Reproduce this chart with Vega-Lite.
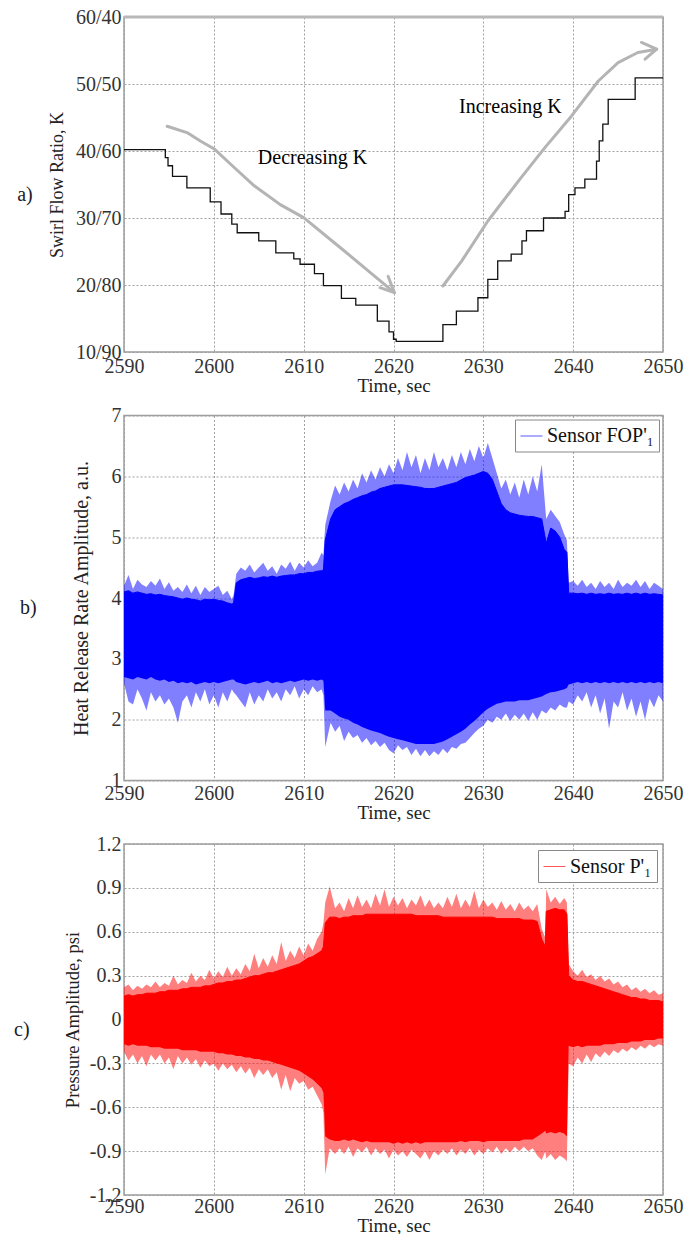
{
"$schema": "https://vega.github.io/schema/vega-lite/v6.json",
"padding": {"left": 13, "top": 6, "right": 4, "bottom": 0},
"background": "white",
"spacing": 63.5,
"bounds": "flush",
"resolve": {"scale": {"color": "independent"}, "legend": {"color": "independent"}},
"config": {
  "font": "Liberation Serif",
  "view": {"stroke": "#9c9c9c", "strokeWidth": 1.5},
  "axis": {"labelFont": "Liberation Serif", "labelFontSize": 20, "labelColor": "#333333", "titleFont": "Liberation Serif", "titleFontSize": 20, "titleFontWeight": "normal", "titleColor": "#222222", "ticks": false, "domain": false, "gridColor": "#a0a0a0", "gridDash": [2, 2], "gridWidth": 1, "labelOverlap": false, "labelFlush": false},
  "legend": {"labelFont": "Liberation Serif", "labelFontSize": 20, "labelColor": "#111111", "strokeColor": "#888888", "fillColor": "white", "padding": 5, "symbolType": "stroke", "symbolSize": 484, "symbolStrokeWidth": 1, "symbolOpacity": 0.65, "orient": "top-right", "offset": 4, "title": null},
  "title": {"font": "Liberation Serif", "fontSize": 20, "fontWeight": "normal", "color": "#1a1a2a", "orient": "left", "angle": 0, "align": "right", "baseline": "middle"}
},
"datasets": {
  "steps": [{"t":2590,"k":40.2},{"t":2594.6,"k":39.0},{"t":2594.9,"k":37.8},{"t":2595.4,"k":36.2},{"t":2597.0,"k":34.5},{"t":2599.6,"k":32.4},{"t":2600.8,"k":30.6},{"t":2602.0,"k":29.1},{"t":2602.6,"k":27.8},{"t":2605.0,"k":26.6},{"t":2606.9,"k":24.8},{"t":2608.9,"k":23.9},{"t":2609.6,"k":23.1},{"t":2611.2,"k":21.7},{"t":2612.2,"k":19.9},{"t":2614.2,"k":18.0},{"t":2615.8,"k":17.0},{"t":2618.2,"k":14.6},{"t":2619.5,"k":13.0},{"t":2620.0,"k":11.9},{"t":2620.3,"k":11.6},{"t":2625.5,"k":14.1},{"t":2627.0,"k":16.1},{"t":2629.4,"k":18.1},{"t":2630.5,"k":20.85},{"t":2631.6,"k":23.6},{"t":2633.1,"k":24.6},{"t":2634.3,"k":26.6},{"t":2634.8,"k":28.1},{"t":2636.7,"k":30.0},{"t":2639.1,"k":31.0},{"t":2639.5,"k":33.5},{"t":2640.2,"k":34.5},{"t":2641.3,"k":35.8},{"t":2642.6,"k":38.5},{"t":2642.9,"k":41.5},{"t":2643.3,"k":44.0},{"t":2643.9,"k":47.7},{"t":2646.9,"k":50.9},{"t":2650.0,"k":50.9}],
  "arrows": [
    {"seg":"d","o":1,"t":2594.8,"k":43.7},{"seg":"d","o":2,"t":2597.1,"k":42.7},{"seg":"d","o":3,"t":2598.5,"k":41.5},{"seg":"d","o":4,"t":2600.1,"k":40.25},{"seg":"d","o":5,"t":2602.3,"k":37.5},{"seg":"d","o":6,"t":2604.5,"k":34.8},{"seg":"d","o":7,"t":2607.4,"k":32.0},{"seg":"d","o":8,"t":2610.0,"k":30.05},{"seg":"d","o":9,"t":2614.6,"k":25.0},{"seg":"d","o":10,"t":2620.1,"k":18.85},
    {"seg":"dh","o":1,"t":2619.4,"k":21.3},{"seg":"dh","o":2,"t":2620.1,"k":18.85},{"seg":"dh","o":3,"t":2618.5,"k":19.6},
    {"seg":"i","o":1,"t":2625.5,"k":19.85},{"seg":"i","o":2,"t":2627.6,"k":23.6},{"seg":"i","o":3,"t":2630.5,"k":29.55},{"seg":"i","o":4,"t":2633.9,"k":35.5},{"seg":"i","o":5,"t":2636.85,"k":40.5},{"seg":"i","o":6,"t":2639.8,"k":45.2},{"seg":"i","o":7,"t":2642.8,"k":50.45},{"seg":"i","o":8,"t":2645.0,"k":53.2},{"seg":"i","o":9,"t":2647.2,"k":54.7},{"seg":"i","o":10,"t":2649.3,"k":55.2},
    {"seg":"ih","o":1,"t":2647.6,"k":56.2},{"seg":"ih","o":2,"t":2649.3,"k":55.2},{"seg":"ih","o":3,"t":2648.0,"k":53.7}
  ],
  "notes": [{"t":2604.9,"k":39.0,"label":"Decreasing K"},{"t":2627.3,"k":46.5,"label":"Increasing K"}],
  "hrr": [
    {"t":2590.0,"ho":4.20,"hi":4.10,"lo":2.70,"lw":2.60},{"t":2590.5,"ho":4.38,"hi":4.12,"lo":2.68,"lw":2.30},{"t":2591.0,"ho":4.15,"hi":4.08,"lo":2.66,"lw":2.25},{"t":2591.5,"ho":4.30,"hi":4.10,"lo":2.70,"lw":2.50},{"t":2592.0,"ho":4.22,"hi":4.08,"lo":2.68,"lw":2.35},{"t":2592.5,"ho":4.18,"hi":4.06,"lo":2.66,"lw":2.15},{"t":2593.0,"ho":4.28,"hi":4.07,"lo":2.70,"lw":2.45},{"t":2593.5,"ho":4.20,"hi":4.05,"lo":2.66,"lw":2.30},{"t":2594.0,"ho":4.32,"hi":4.06,"lo":2.64,"lw":2.40},{"t":2594.5,"ho":4.15,"hi":4.04,"lo":2.66,"lw":2.25},{"t":2595.0,"ho":4.26,"hi":4.03,"lo":2.62,"lw":2.35},{"t":2595.5,"ho":4.12,"hi":4.02,"lo":2.64,"lw":2.20},{"t":2596.0,"ho":4.18,"hi":4.00,"lo":2.60,"lw":1.95},{"t":2596.5,"ho":4.10,"hi":3.98,"lo":2.62,"lw":2.30},{"t":2597.0,"ho":4.22,"hi":4.00,"lo":2.60,"lw":2.40},{"t":2597.5,"ho":4.08,"hi":3.98,"lo":2.62,"lw":2.20},{"t":2598.0,"ho":4.20,"hi":3.97,"lo":2.58,"lw":2.45},{"t":2598.5,"ho":4.05,"hi":3.95,"lo":2.60,"lw":2.30},{"t":2599.0,"ho":4.18,"hi":3.98,"lo":2.62,"lw":2.50},{"t":2599.5,"ho":4.10,"hi":3.97,"lo":2.60,"lw":2.25},{"t":2600.0,"ho":4.15,"hi":3.98,"lo":2.62,"lw":2.40},{"t":2600.5,"ho":4.20,"hi":3.96,"lo":2.60,"lw":2.20},{"t":2601.0,"ho":4.05,"hi":3.95,"lo":2.62,"lw":2.45},{"t":2601.5,"ho":4.12,"hi":3.92,"lo":2.64,"lw":2.30},{"t":2602.0,"ho":3.98,"hi":3.90,"lo":2.66,"lw":2.50},{"t":2602.2,"ho":4.05,"hi":3.92,"lo":2.66,"lw":2.45},{"t":2602.5,"ho":4.40,"hi":4.25,"lo":2.62,"lw":2.40},{"t":2603.0,"ho":4.50,"hi":4.30,"lo":2.60,"lw":2.30},{"t":2603.5,"ho":4.45,"hi":4.32,"lo":2.58,"lw":2.20},{"t":2604.0,"ho":4.55,"hi":4.34,"lo":2.60,"lw":2.45},{"t":2604.5,"ho":4.42,"hi":4.32,"lo":2.62,"lw":2.25},{"t":2605.0,"ho":4.50,"hi":4.33,"lo":2.60,"lw":2.40},{"t":2605.5,"ho":4.58,"hi":4.35,"lo":2.62,"lw":2.30},{"t":2606.0,"ho":4.45,"hi":4.34,"lo":2.64,"lw":2.50},{"t":2606.5,"ho":4.52,"hi":4.36,"lo":2.60,"lw":2.35},{"t":2607.0,"ho":4.40,"hi":4.34,"lo":2.62,"lw":2.45},{"t":2607.5,"ho":4.55,"hi":4.36,"lo":2.60,"lw":2.30},{"t":2608.0,"ho":4.48,"hi":4.37,"lo":2.62,"lw":2.50},{"t":2608.5,"ho":4.60,"hi":4.38,"lo":2.64,"lw":2.40},{"t":2609.0,"ho":4.45,"hi":4.38,"lo":2.62,"lw":2.55},{"t":2609.5,"ho":4.58,"hi":4.40,"lo":2.64,"lw":2.35},{"t":2610.0,"ho":4.50,"hi":4.40,"lo":2.66,"lw":2.50},{"t":2610.5,"ho":4.62,"hi":4.42,"lo":2.64,"lw":2.40},{"t":2611.0,"ho":4.52,"hi":4.42,"lo":2.66,"lw":2.55},{"t":2611.5,"ho":4.58,"hi":4.44,"lo":2.64,"lw":2.45},{"t":2612.0,"ho":4.75,"hi":4.45,"lo":2.66,"lw":2.50},{"t":2612.2,"ho":4.70,"hi":4.46,"lo":2.64,"lw":2.40},{"t":2612.4,"ho":5.20,"hi":4.95,"lo":2.15,"lw":1.55},{"t":2613.0,"ho":5.60,"hi":5.30,"lo":2.15,"lw":1.95},{"t":2613.5,"ho":5.85,"hi":5.45,"lo":2.10,"lw":1.80},{"t":2614.0,"ho":5.70,"hi":5.50,"lo":2.05,"lw":1.90},{"t":2614.5,"ho":5.90,"hi":5.55,"lo":2.02,"lw":1.65},{"t":2615.0,"ho":5.75,"hi":5.58,"lo":2.00,"lw":1.80},{"t":2615.5,"ho":5.95,"hi":5.62,"lo":1.95,"lw":1.70},{"t":2616.0,"ho":5.80,"hi":5.65,"lo":1.92,"lw":1.75},{"t":2616.5,"ho":6.05,"hi":5.68,"lo":1.88,"lw":1.62},{"t":2617.0,"ho":5.90,"hi":5.70,"lo":1.85,"lw":1.70},{"t":2617.5,"ho":6.10,"hi":5.74,"lo":1.82,"lw":1.58},{"t":2618.0,"ho":5.95,"hi":5.76,"lo":1.80,"lw":1.65},{"t":2618.5,"ho":6.15,"hi":5.80,"lo":1.78,"lw":1.55},{"t":2619.0,"ho":6.00,"hi":5.82,"lo":1.75,"lw":1.62},{"t":2619.5,"ho":6.20,"hi":5.84,"lo":1.72,"lw":1.50},{"t":2620.0,"ho":6.05,"hi":5.86,"lo":1.70,"lw":1.45},{"t":2620.5,"ho":6.30,"hi":5.86,"lo":1.68,"lw":1.58},{"t":2621.0,"ho":6.10,"hi":5.86,"lo":1.66,"lw":1.50},{"t":2621.5,"ho":6.40,"hi":5.85,"lo":1.64,"lw":1.55},{"t":2622.0,"ho":6.15,"hi":5.84,"lo":1.62,"lw":1.42},{"t":2622.5,"ho":6.35,"hi":5.83,"lo":1.60,"lw":1.52},{"t":2623.0,"ho":6.05,"hi":5.82,"lo":1.60,"lw":1.40},{"t":2623.5,"ho":6.30,"hi":5.80,"lo":1.60,"lw":1.50},{"t":2624.0,"ho":6.10,"hi":5.80,"lo":1.60,"lw":1.40},{"t":2624.5,"ho":6.40,"hi":5.80,"lo":1.60,"lw":1.48},{"t":2625.0,"ho":6.15,"hi":5.82,"lo":1.62,"lw":1.42},{"t":2625.5,"ho":6.30,"hi":5.84,"lo":1.64,"lw":1.52},{"t":2626.0,"ho":6.10,"hi":5.86,"lo":1.68,"lw":1.45},{"t":2626.5,"ho":6.35,"hi":5.88,"lo":1.72,"lw":1.55},{"t":2627.0,"ho":6.15,"hi":5.90,"lo":1.76,"lw":1.52},{"t":2627.5,"ho":6.40,"hi":5.94,"lo":1.80,"lw":1.60},{"t":2628.0,"ho":6.20,"hi":5.98,"lo":1.85,"lw":1.62},{"t":2628.5,"ho":6.45,"hi":6.00,"lo":1.92,"lw":1.70},{"t":2629.0,"ho":6.25,"hi":6.02,"lo":1.98,"lw":1.78},{"t":2629.5,"ho":6.50,"hi":6.05,"lo":2.05,"lw":1.85},{"t":2630.0,"ho":6.30,"hi":6.08,"lo":2.12,"lw":1.90},{"t":2630.5,"ho":6.55,"hi":6.05,"lo":2.18,"lw":2.00},{"t":2631.0,"ho":6.30,"hi":5.95,"lo":2.22,"lw":1.95},{"t":2631.5,"ho":6.05,"hi":5.75,"lo":2.26,"lw":2.05},{"t":2632.0,"ho":5.80,"hi":5.55,"lo":2.28,"lw":2.00},{"t":2632.5,"ho":5.95,"hi":5.45,"lo":2.30,"lw":2.10},{"t":2633.0,"ho":5.70,"hi":5.40,"lo":2.30,"lw":1.98},{"t":2633.5,"ho":5.90,"hi":5.38,"lo":2.30,"lw":2.08},{"t":2634.0,"ho":5.65,"hi":5.36,"lo":2.32,"lw":2.00},{"t":2634.5,"ho":5.95,"hi":5.35,"lo":2.32,"lw":2.10},{"t":2635.0,"ho":5.70,"hi":5.34,"lo":2.32,"lw":1.98},{"t":2635.5,"ho":6.00,"hi":5.34,"lo":2.34,"lw":2.12},{"t":2636.0,"ho":5.75,"hi":5.32,"lo":2.36,"lw":2.00},{"t":2636.5,"ho":6.20,"hi":5.30,"lo":2.38,"lw":2.15},{"t":2637.0,"ho":5.30,"hi":4.90,"lo":2.42,"lw":2.10},{"t":2637.5,"ho":5.45,"hi":5.15,"lo":2.45,"lw":2.20},{"t":2638.0,"ho":5.35,"hi":5.10,"lo":2.46,"lw":2.15},{"t":2638.5,"ho":5.25,"hi":5.00,"lo":2.48,"lw":2.25},{"t":2639.0,"ho":5.05,"hi":4.80,"lo":2.50,"lw":2.20},{"t":2639.3,"ho":4.95,"hi":4.75,"lo":2.52,"lw":2.20},{"t":2639.5,"ho":4.25,"hi":4.08,"lo":2.58,"lw":2.30},{"t":2640.0,"ho":4.28,"hi":4.08,"lo":2.60,"lw":2.25},{"t":2640.5,"ho":4.20,"hi":4.07,"lo":2.62,"lw":2.40},{"t":2641.0,"ho":4.30,"hi":4.08,"lo":2.60,"lw":2.30},{"t":2641.5,"ho":4.18,"hi":4.06,"lo":2.62,"lw":2.45},{"t":2642.0,"ho":4.25,"hi":4.08,"lo":2.60,"lw":2.20},{"t":2642.5,"ho":4.15,"hi":4.06,"lo":2.62,"lw":2.40},{"t":2643.0,"ho":4.28,"hi":4.07,"lo":2.60,"lw":2.10},{"t":2643.5,"ho":4.18,"hi":4.06,"lo":2.62,"lw":2.35},{"t":2644.0,"ho":4.25,"hi":4.08,"lo":2.60,"lw":1.85},{"t":2644.5,"ho":4.15,"hi":4.06,"lo":2.62,"lw":2.30},{"t":2645.0,"ho":4.30,"hi":4.07,"lo":2.60,"lw":2.20},{"t":2645.5,"ho":4.18,"hi":4.06,"lo":2.62,"lw":2.45},{"t":2646.0,"ho":4.25,"hi":4.08,"lo":2.60,"lw":2.15},{"t":2646.5,"ho":4.20,"hi":4.06,"lo":2.62,"lw":2.35},{"t":2647.0,"ho":4.30,"hi":4.08,"lo":2.60,"lw":2.05},{"t":2647.5,"ho":4.18,"hi":4.06,"lo":2.62,"lw":2.30},{"t":2648.0,"ho":4.28,"hi":4.08,"lo":2.60,"lw":2.00},{"t":2648.5,"ho":4.15,"hi":4.06,"lo":2.62,"lw":2.35},{"t":2649.0,"ho":4.25,"hi":4.07,"lo":2.60,"lw":2.20},{"t":2649.5,"ho":4.20,"hi":4.06,"lo":2.62,"lw":2.40},{"t":2650.0,"ho":4.15,"hi":4.05,"lo":2.60,"lw":2.30}
  ],
  "prs": [
    {"t":2590.0,"ho":0.22,"hi":0.16,"lo":-0.17,"lw":-0.22},{"t":2590.5,"ho":0.24,"hi":0.17,"lo":-0.18,"lw":-0.28},{"t":2591.0,"ho":0.20,"hi":0.16,"lo":-0.17,"lw":-0.24},{"t":2591.5,"ho":0.23,"hi":0.17,"lo":-0.18,"lw":-0.30},{"t":2592.0,"ho":0.21,"hi":0.17,"lo":-0.18,"lw":-0.25},{"t":2592.5,"ho":0.24,"hi":0.18,"lo":-0.18,"lw":-0.32},{"t":2593.0,"ho":0.22,"hi":0.18,"lo":-0.19,"lw":-0.24},{"t":2593.5,"ho":0.26,"hi":0.18,"lo":-0.19,"lw":-0.28},{"t":2594.0,"ho":0.22,"hi":0.19,"lo":-0.19,"lw":-0.24},{"t":2594.5,"ho":0.25,"hi":0.19,"lo":-0.20,"lw":-0.30},{"t":2595.0,"ho":0.23,"hi":0.20,"lo":-0.20,"lw":-0.26},{"t":2595.5,"ho":0.30,"hi":0.20,"lo":-0.20,"lw":-0.34},{"t":2596.0,"ho":0.24,"hi":0.20,"lo":-0.20,"lw":-0.25},{"t":2596.5,"ho":0.27,"hi":0.21,"lo":-0.21,"lw":-0.30},{"t":2597.0,"ho":0.25,"hi":0.21,"lo":-0.21,"lw":-0.26},{"t":2597.5,"ho":0.32,"hi":0.22,"lo":-0.21,"lw":-0.31},{"t":2598.0,"ho":0.26,"hi":0.22,"lo":-0.21,"lw":-0.27},{"t":2598.5,"ho":0.30,"hi":0.22,"lo":-0.22,"lw":-0.33},{"t":2599.0,"ho":0.27,"hi":0.23,"lo":-0.22,"lw":-0.28},{"t":2599.5,"ho":0.34,"hi":0.23,"lo":-0.22,"lw":-0.32},{"t":2600.0,"ho":0.28,"hi":0.24,"lo":-0.22,"lw":-0.30},{"t":2600.5,"ho":0.33,"hi":0.25,"lo":-0.23,"lw":-0.35},{"t":2601.0,"ho":0.29,"hi":0.25,"lo":-0.23,"lw":-0.30},{"t":2601.5,"ho":0.36,"hi":0.26,"lo":-0.24,"lw":-0.34},{"t":2602.0,"ho":0.30,"hi":0.26,"lo":-0.24,"lw":-0.31},{"t":2602.5,"ho":0.35,"hi":0.27,"lo":-0.25,"lw":-0.36},{"t":2603.0,"ho":0.31,"hi":0.27,"lo":-0.25,"lw":-0.32},{"t":2603.5,"ho":0.38,"hi":0.28,"lo":-0.26,"lw":-0.37},{"t":2604.0,"ho":0.33,"hi":0.29,"lo":-0.26,"lw":-0.33},{"t":2604.5,"ho":0.45,"hi":0.30,"lo":-0.27,"lw":-0.40},{"t":2605.0,"ho":0.35,"hi":0.30,"lo":-0.27,"lw":-0.34},{"t":2605.5,"ho":0.42,"hi":0.31,"lo":-0.28,"lw":-0.38},{"t":2606.0,"ho":0.36,"hi":0.32,"lo":-0.28,"lw":-0.34},{"t":2606.5,"ho":0.44,"hi":0.32,"lo":-0.29,"lw":-0.40},{"t":2607.0,"ho":0.38,"hi":0.33,"lo":-0.30,"lw":-0.36},{"t":2607.5,"ho":0.53,"hi":0.34,"lo":-0.31,"lw":-0.48},{"t":2608.0,"ho":0.40,"hi":0.35,"lo":-0.32,"lw":-0.38},{"t":2608.5,"ho":0.47,"hi":0.36,"lo":-0.33,"lw":-0.49},{"t":2609.0,"ho":0.42,"hi":0.37,"lo":-0.34,"lw":-0.40},{"t":2609.5,"ho":0.50,"hi":0.38,"lo":-0.35,"lw":-0.44},{"t":2610.0,"ho":0.44,"hi":0.40,"lo":-0.37,"lw":-0.42},{"t":2610.5,"ho":0.52,"hi":0.42,"lo":-0.39,"lw":-0.48},{"t":2611.0,"ho":0.47,"hi":0.43,"lo":-0.41,"lw":-0.46},{"t":2611.5,"ho":0.55,"hi":0.45,"lo":-0.44,"lw":-0.52},{"t":2612.0,"ho":0.60,"hi":0.47,"lo":-0.47,"lw":-0.58},{"t":2612.2,"ho":0.66,"hi":0.50,"lo":-0.50,"lw":-0.64},{"t":2612.4,"ho":0.80,"hi":0.66,"lo":-0.80,"lw":-1.06},{"t":2612.9,"ho":0.91,"hi":0.70,"lo":-0.82,"lw":-0.88},{"t":2613.5,"ho":0.76,"hi":0.70,"lo":-0.83,"lw":-0.92},{"t":2614.0,"ho":0.80,"hi":0.69,"lo":-0.83,"lw":-0.88},{"t":2614.5,"ho":0.74,"hi":0.70,"lo":-0.82,"lw":-0.92},{"t":2615.0,"ho":0.83,"hi":0.70,"lo":-0.83,"lw":-0.87},{"t":2615.5,"ho":0.76,"hi":0.71,"lo":-0.82,"lw":-0.94},{"t":2616.0,"ho":0.85,"hi":0.71,"lo":-0.83,"lw":-0.88},{"t":2616.5,"ho":0.77,"hi":0.71,"lo":-0.84,"lw":-0.91},{"t":2617.0,"ho":0.82,"hi":0.72,"lo":-0.83,"lw":-0.87},{"t":2617.5,"ho":0.76,"hi":0.72,"lo":-0.84,"lw":-0.93},{"t":2618.0,"ho":0.86,"hi":0.72,"lo":-0.84,"lw":-0.88},{"t":2618.5,"ho":0.78,"hi":0.72,"lo":-0.84,"lw":-0.92},{"t":2619.0,"ho":0.89,"hi":0.72,"lo":-0.84,"lw":-0.89},{"t":2619.5,"ho":0.77,"hi":0.72,"lo":-0.84,"lw":-0.95},{"t":2620.0,"ho":0.84,"hi":0.72,"lo":-0.85,"lw":-0.89},{"t":2620.5,"ho":0.78,"hi":0.72,"lo":-0.84,"lw":-0.93},{"t":2621.0,"ho":0.83,"hi":0.72,"lo":-0.85,"lw":-0.90},{"t":2621.5,"ho":0.76,"hi":0.72,"lo":-0.84,"lw":-0.94},{"t":2622.0,"ho":0.82,"hi":0.72,"lo":-0.85,"lw":-0.89},{"t":2622.5,"ho":0.78,"hi":0.71,"lo":-0.84,"lw":-0.92},{"t":2623.0,"ho":0.85,"hi":0.71,"lo":-0.85,"lw":-0.95},{"t":2623.5,"ho":0.77,"hi":0.71,"lo":-0.84,"lw":-0.90},{"t":2624.0,"ho":0.82,"hi":0.71,"lo":-0.84,"lw":-0.96},{"t":2624.5,"ho":0.76,"hi":0.71,"lo":-0.84,"lw":-0.90},{"t":2625.0,"ho":0.80,"hi":0.71,"lo":-0.84,"lw":-0.93},{"t":2625.5,"ho":0.76,"hi":0.70,"lo":-0.84,"lw":-0.89},{"t":2626.0,"ho":0.84,"hi":0.70,"lo":-0.84,"lw":-0.92},{"t":2626.5,"ho":0.77,"hi":0.70,"lo":-0.84,"lw":-0.88},{"t":2627.0,"ho":0.86,"hi":0.70,"lo":-0.84,"lw":-0.93},{"t":2627.5,"ho":0.76,"hi":0.70,"lo":-0.83,"lw":-0.89},{"t":2628.0,"ho":0.82,"hi":0.70,"lo":-0.84,"lw":-0.92},{"t":2628.5,"ho":0.77,"hi":0.70,"lo":-0.83,"lw":-0.88},{"t":2629.0,"ho":0.88,"hi":0.70,"lo":-0.83,"lw":-0.93},{"t":2629.5,"ho":0.76,"hi":0.70,"lo":-0.83,"lw":-0.89},{"t":2630.0,"ho":0.82,"hi":0.70,"lo":-0.84,"lw":-0.92},{"t":2630.5,"ho":0.77,"hi":0.70,"lo":-0.83,"lw":-0.88},{"t":2631.0,"ho":0.80,"hi":0.70,"lo":-0.83,"lw":-0.91},{"t":2631.5,"ho":0.75,"hi":0.69,"lo":-0.83,"lw":-0.87},{"t":2632.0,"ho":0.81,"hi":0.69,"lo":-0.83,"lw":-0.92},{"t":2632.5,"ho":0.75,"hi":0.69,"lo":-0.83,"lw":-0.88},{"t":2633.0,"ho":0.79,"hi":0.69,"lo":-0.83,"lw":-0.91},{"t":2633.5,"ho":0.74,"hi":0.69,"lo":-0.83,"lw":-0.87},{"t":2634.0,"ho":0.80,"hi":0.69,"lo":-0.83,"lw":-0.90},{"t":2634.5,"ho":0.75,"hi":0.68,"lo":-0.82,"lw":-0.87},{"t":2635.0,"ho":0.78,"hi":0.68,"lo":-0.82,"lw":-0.90},{"t":2635.5,"ho":0.74,"hi":0.68,"lo":-0.82,"lw":-0.88},{"t":2636.0,"ho":0.79,"hi":0.67,"lo":-0.80,"lw":-0.93},{"t":2636.5,"ho":0.62,"hi":0.55,"lo":-0.78,"lw":-0.96},{"t":2636.9,"ho":0.56,"hi":0.50,"lo":-0.76,"lw":-0.90},{"t":2637.0,"ho":0.89,"hi":0.74,"lo":-0.78,"lw":-0.95},{"t":2637.5,"ho":0.80,"hi":0.75,"lo":-0.77,"lw":-0.92},{"t":2638.0,"ho":0.84,"hi":0.76,"lo":-0.78,"lw":-0.96},{"t":2638.5,"ho":0.79,"hi":0.75,"lo":-0.77,"lw":-0.93},{"t":2639.0,"ho":0.83,"hi":0.75,"lo":-0.78,"lw":-0.95},{"t":2639.3,"ho":0.80,"hi":0.72,"lo":-0.80,"lw":-0.97},{"t":2639.5,"ho":0.38,"hi":0.30,"lo":-0.18,"lw":-0.30},{"t":2640.0,"ho":0.33,"hi":0.27,"lo":-0.19,"lw":-0.32},{"t":2640.5,"ho":0.30,"hi":0.26,"lo":-0.18,"lw":-0.26},{"t":2641.0,"ho":0.34,"hi":0.26,"lo":-0.19,"lw":-0.30},{"t":2641.5,"ho":0.29,"hi":0.25,"lo":-0.18,"lw":-0.24},{"t":2642.0,"ho":0.31,"hi":0.24,"lo":-0.18,"lw":-0.29},{"t":2642.5,"ho":0.27,"hi":0.23,"lo":-0.18,"lw":-0.23},{"t":2643.0,"ho":0.30,"hi":0.22,"lo":-0.18,"lw":-0.26},{"t":2643.5,"ho":0.26,"hi":0.21,"lo":-0.17,"lw":-0.22},{"t":2644.0,"ho":0.28,"hi":0.20,"lo":-0.17,"lw":-0.25},{"t":2644.5,"ho":0.24,"hi":0.19,"lo":-0.17,"lw":-0.21},{"t":2645.0,"ho":0.26,"hi":0.18,"lo":-0.16,"lw":-0.23},{"t":2645.5,"ho":0.22,"hi":0.17,"lo":-0.16,"lw":-0.20},{"t":2646.0,"ho":0.24,"hi":0.16,"lo":-0.16,"lw":-0.22},{"t":2646.5,"ho":0.20,"hi":0.15,"lo":-0.15,"lw":-0.19},{"t":2647.0,"ho":0.22,"hi":0.15,"lo":-0.15,"lw":-0.21},{"t":2647.5,"ho":0.19,"hi":0.14,"lo":-0.15,"lw":-0.18},{"t":2648.0,"ho":0.21,"hi":0.14,"lo":-0.14,"lw":-0.20},{"t":2648.5,"ho":0.18,"hi":0.13,"lo":-0.14,"lw":-0.17},{"t":2649.0,"ho":0.20,"hi":0.13,"lo":-0.14,"lw":-0.19},{"t":2649.5,"ho":0.17,"hi":0.13,"lo":-0.13,"lw":-0.17},{"t":2650.0,"ho":0.18,"hi":0.12,"lo":-0.13,"lw":-0.18}
  ]
},
"vconcat": [
  {
    "width": 539, "height": 335,
    "title": {"text": "a)", "offset": 8},
    "layer": [
      {
        "data": {"name": "arrows"},
        "mark": {"type": "line", "color": "#b4b4b4", "strokeWidth": 3, "strokeCap": "round", "strokeJoin": "round"},
        "encoding": {
          "x": {"field": "t", "type": "quantitative", "scale": {"domain": [2590, 2650], "nice": false, "zero": false}, "axis": {"values": [2590, 2600, 2610, 2620, 2630, 2640, 2650], "format": "d", "labelPadding": 4, "titlePadding": 0, "titleFontSize": 19}, "title": "Time, sec"},
          "y": {"field": "k", "type": "quantitative", "scale": {"domain": [10, 60], "nice": false, "zero": false}, "axis": {"values": [10, 20, 30, 40, 50, 60], "labelExpr": "datum.value + '/' + (100 - datum.value)", "titleFontSize": 18, "titlePadding": 9, "labelPadding": 3}, "title": "Swirl Flow Ratio, K"},
          "detail": {"field": "seg", "type": "nominal"},
          "order": {"field": "o", "type": "quantitative"}
        }
      },
      {
        "data": {"name": "steps"},
        "mark": {"type": "line", "color": "#111111", "strokeWidth": 1.3, "interpolate": "step-after"},
        "encoding": {
          "x": {"field": "t", "type": "quantitative", "title": "Time, sec"},
          "y": {"field": "k", "type": "quantitative", "title": "Swirl Flow Ratio, K"}
        }
      },
      {
        "data": {"name": "notes"},
        "mark": {"type": "text", "align": "left", "baseline": "middle", "fontSize": 20, "font": "Liberation Serif", "color": "#000000"},
        "encoding": {
          "x": {"field": "t", "type": "quantitative", "title": "Time, sec"},
          "y": {"field": "k", "type": "quantitative", "title": "Swirl Flow Ratio, K"},
          "text": {"field": "label"}
        }
      },
      {
        "data": {"values": [{}]},
        "mark": {"type": "rule", "color": "#b8b8b8", "strokeWidth": 3},
        "encoding": {"y": {"datum": 60, "type": "quantitative"}}
      }
    ]
  },
  {
    "width": 539, "height": 365,
    "title": {"text": "b)", "offset": 26},
    "data": {"name": "hrr"},
    "encoding": {
      "x": {"field": "t", "type": "quantitative", "scale": {"domain": [2590, 2650], "nice": false, "zero": false}, "axis": {"values": [2590, 2600, 2610, 2620, 2630, 2640, 2650], "format": "d", "labelPadding": 3, "titlePadding": 0, "titleFontSize": 19}, "title": "Time, sec"}
    },
    "layer": [
      {
        "mark": {"type": "area", "color": "#0000ff", "opacity": 0.5},
        "encoding": {
          "y": {"field": "ho", "type": "quantitative", "scale": {"domain": [1, 7], "nice": false, "zero": false}, "axis": {"values": [1, 2, 3, 4, 5, 6, 7], "format": "d", "titlePadding": 20, "labelPadding": 3}, "title": "Heat Release Rate Amplitude, a.u."},
          "y2": {"field": "lw"}
        }
      },
      {
        "mark": {"type": "area", "color": "#0000ff"},
        "encoding": {
          "y": {"field": "hi", "type": "quantitative", "title": "Heat Release Rate Amplitude, a.u."},
          "y2": {"field": "lo"}
        }
      },
      {
        "mark": {"type": "line", "strokeWidth": 1},
        "encoding": {
          "y": {"field": "hi", "type": "quantitative", "title": "Heat Release Rate Amplitude, a.u."},
          "color": {"datum": "Sensor FOP'\u2081", "scale": {"range": ["#0000ff"]}, "legend": {"offset": 4, "encode": {"symbols": {"update": {"fill": {"value": "transparent"}, "strokeWidth": {"value": 1}, "stroke": {"value": "#6a6aff"}}}}}}
        }
      }
    ]
  },
  {
    "width": 539, "height": 351,
    "title": {"text": "c)", "offset": 26},
    "data": {"name": "prs"},
    "encoding": {
      "x": {"field": "t", "type": "quantitative", "scale": {"domain": [2590, 2650], "nice": false, "zero": false}, "axis": {"values": [2590, 2600, 2610, 2620, 2630, 2640, 2650], "format": "d", "labelPadding": 1, "titlePadding": 0, "titleFontSize": 19}, "title": "Time, sec"}
    },
    "layer": [
      {
        "mark": {"type": "area", "color": "#ff0000", "opacity": 0.5},
        "encoding": {
          "y": {"field": "ho", "type": "quantitative", "scale": {"domain": [-1.2, 1.2], "nice": false, "zero": false}, "axis": {"values": [-1.2, -0.9, -0.6, -0.3, 0, 0.3, 0.6, 0.9, 1.2], "labelExpr": "datum.value == 0 ? '0' : (datum.value < 0 ? '-' + format(-datum.value, '.1f') : format(datum.value, '.1f'))", "titleFontSize": 18.5, "titlePadding": 7, "labelPadding": 3}, "title": "Pressure Amplitude, psi"},
          "y2": {"field": "lw"}
        }
      },
      {
        "mark": {"type": "area", "color": "#ff0000"},
        "encoding": {
          "y": {"field": "hi", "type": "quantitative", "title": "Pressure Amplitude, psi"},
          "y2": {"field": "lo"}
        }
      },
      {
        "mark": {"type": "line", "strokeWidth": 1},
        "encoding": {
          "y": {"field": "hi", "type": "quantitative", "title": "Pressure Amplitude, psi"},
          "color": {"datum": "Sensor P'\u2081", "scale": {"range": ["#ff0000"]}, "legend": {"offset": 6, "encode": {"symbols": {"update": {"fill": {"value": "transparent"}, "strokeWidth": {"value": 1}, "stroke": {"value": "#ff6a6a"}}}}}}
        }
      }
    ]
  }
]
}
